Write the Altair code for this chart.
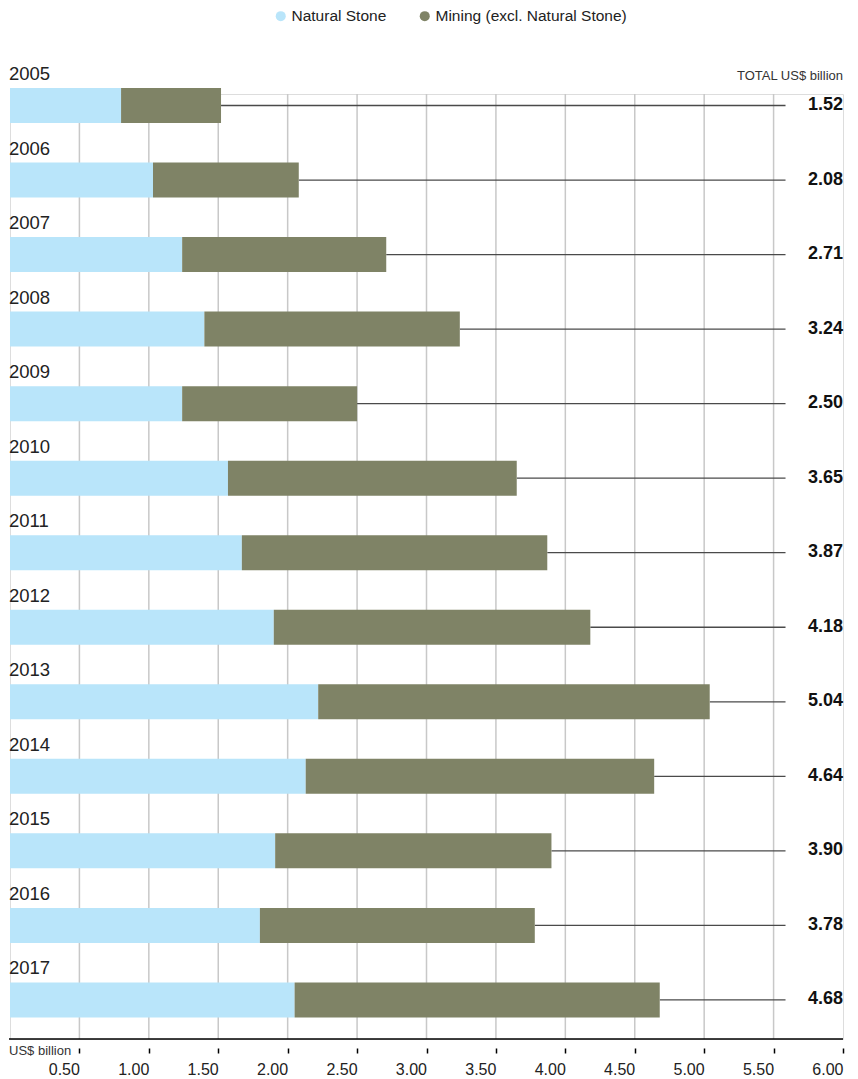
import altair as alt
import pandas as pd

# ---- data ----
years = ["2005", "2006", "2007", "2008", "2009", "2010", "2011",
         "2012", "2013", "2014", "2015", "2016", "2017"]
natural_stone = [0.80, 1.03, 1.24, 1.40, 1.24, 1.57, 1.67,
                 1.90, 2.22, 2.13, 1.91, 1.80, 2.05]
totals = [1.52, 2.08, 2.71, 3.24, 2.50, 3.65, 3.87,
          4.18, 5.04, 4.64, 3.90, 3.78, 4.68]
series = ["Natural Stone", "Mining (excl. Natural Stone)"]
colors = ["#b9e5fa", "#7f8366"]
tick_values = [0.5, 1.0, 1.5, 2.0, 2.5, 3.0, 3.5, 4.0, 4.5, 5.0, 5.5, 6.0]
grid_values = [0.5, 1.0, 1.5, 2.0, 2.5, 3.0, 3.5, 4.0, 4.5, 5.0, 5.5]
x_max = 6.0
leader_end = 5.586

FONT = "Liberation Sans"
W, H = 833, 945

# ---- tables ----
bar_rows = []
for i, (yr, ns, tot) in enumerate(zip(years, natural_stone, totals)):
    bar_rows.append({"idx": i, "year": yr, "series": series[0], "start": 0.0, "end": ns})
    bar_rows.append({"idx": i, "year": yr, "series": series[1], "start": ns, "end": tot})
bars_df = pd.DataFrame(bar_rows)

rows_df = pd.DataFrame({
    "idx": list(range(len(years))),
    "year": years,
    "total": totals,
    "label": [f"{t:.2f}" for t in totals],
    "lead_end": [leader_end] * len(years),
    "right": [x_max] * len(years),
})
grid_df = pd.DataFrame({"g": grid_values})

x_scale = alt.Scale(domain=[0, x_max], nice=False, zero=True, padding=0)
y_scale = alt.Scale(domain=[-0.1543, 12.524], reverse=True, nice=False, zero=False, padding=0)
x_axis = alt.Axis(values=tick_values, format=".2f", title=None, domain=False, grid=False,
                  ticks=True, tickSize=5, tickWidth=1.5, tickColor="#000", offset=9,
                  labelAlign="right", labelPadding=8, labelFontSize=16, labelColor="#222",
                  labelFont=FONT, labelFlush=False, labelOverlap=False)

def X(field):
    return alt.X(field, type="quantitative", scale=x_scale, axis=x_axis)

Y = alt.Y("idx:Q", scale=y_scale, axis=None)

grid = alt.Chart(grid_df).mark_rule(color="#c8c8c8", strokeWidth=1.5).encode(
    x=X("g"), y=alt.value(0), y2=alt.value(H)
)

leaders = alt.Chart(rows_df).mark_rule(color="#4a4a4a", strokeWidth=1.3).encode(
    x=X("total"), x2="lead_end:Q", y=Y
)

bars = alt.Chart(bars_df).mark_bar(orient="horizontal", size=35).encode(
    x=X("start"), x2="end:Q", y=Y,
    color=alt.Color("series:N", scale=alt.Scale(domain=series, range=colors),
                    legend=alt.Legend(title=None, orient="none", direction="horizontal",
                                      legendX=263, legendY=-86, padding=0,
                                      symbolType="circle", symbolSize=100,
                                      symbolStrokeWidth=0, labelFontSize=15.5,
                                      labelFont=FONT, labelColor="#222", labelLimit=0,
                                      labelOffset=3, columnPadding=30)),
)

year_labels = alt.Chart(rows_df).mark_text(
    align="left", baseline="alphabetic", dy=-25.5, dx=-1, fontSize=18.5,
    font=FONT, color="#222"
).encode(x=alt.datum(0, type="quantitative", scale=x_scale, axis=x_axis), y=Y, text="year:N")

total_labels = alt.Chart(rows_df).mark_text(
    align="right", baseline="middle", dy=-0.5, fontSize=18, fontWeight="bold",
    font=FONT, color="#111"
).encode(x=X("right"), y=Y, text="label:N")

header = alt.Chart(rows_df.head(1)).mark_text(
    align="right", baseline="alphabetic", dy=-25.5, fontSize=13,
    font=FONT, color="#333"
).encode(x=X("right"), y=Y, text=alt.value("TOTAL US$ billion"))

unit_label = alt.Chart(rows_df.head(1)).mark_text(
    align="left", baseline="middle", dx=-1, fontSize=13, font=FONT, color="#333"
).encode(x=alt.datum(0, type="quantitative", scale=x_scale, axis=x_axis),
         y=alt.value(957), text=alt.value("US$ billion"))

domain_line = alt.Chart(rows_df.head(1)).mark_rule(color="#000", strokeWidth=1.5).encode(
    x=alt.value(-1), x2=alt.value(W), y=alt.value(H)
)

chart = alt.layer(
    grid, leaders, bars, year_labels, total_labels, header, unit_label, domain_line
).properties(
    width=W, height=H,
    padding={"left": 2, "top": 86, "right": 7, "bottom": 40},
    autosize=alt.AutoSizeParams(type="none"),
).configure_view(stroke="transparent", strokeWidth=0).configure(font=FONT)

chart.save("out.html", embed_options={"renderer": "svg", "actions": False})
